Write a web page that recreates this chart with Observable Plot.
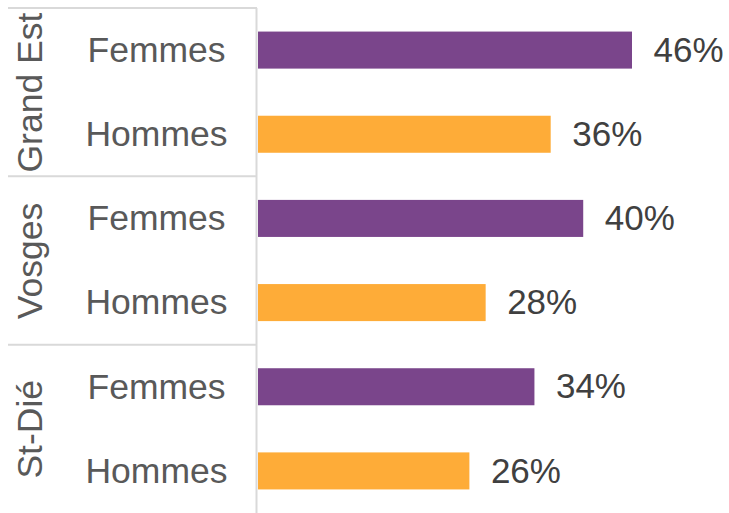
<!DOCTYPE html>
<html>
<head>
<meta charset="utf-8">
<script src="https://cdn.jsdelivr.net/npm/d3@7"></script>
<script src="https://cdn.jsdelivr.net/npm/@observablehq/plot@0.6"></script>
<style>
  html, body { margin: 0; padding: 0; background: #fff; }
  #chart svg { display: block; }
</style>
</head>
<body>
<div id="chart"></div>
<script>
// Data
const regions = ["Grand Est", "Grand Est", "Vosges", "Vosges", "St-Dié", "St-Dié"];
const sexes = ["Femmes", "Hommes", "Femmes", "Hommes", "Femmes", "Hommes"];
const values = [46, 36, 40, 28, 34, 26];
const sexDomain = ["Femmes", "Hommes"];
const sexColors = ["#7a458b", "#feac38"];
const groupNames = ["Grand Est", "Vosges", "St-Dié"];

const rows = values.map((v, i) => ({
  key: regions[i] + "|" + sexes[i],
  region: regions[i],
  sex: sexes[i],
  value: v
}));
const keys = rows.map(d => d.key);
const groups = groupNames.map(g => ({ name: g, first: rows.find(r => r.region === g).key }));

const font = "'Liberation Sans', Arial, Helvetica, sans-serif";
const padInner = 0.56, padOuter = 0.28;

const chart = Plot.plot({
  width: 729,
  height: 513,
  marginLeft: 258,
  marginRight: 97,
  marginTop: 8,
  marginBottom: 0,
  style: { fontFamily: font, background: "#fff" },
  x: { domain: [0, 46], axis: null },
  y: { domain: keys, axis: null, paddingInner: padInner, paddingOuter: padOuter, round: false },
  color: { domain: sexDomain, range: sexColors },
  marks: [
    Plot.ruleX([0], { stroke: "#d9d9d9", strokeWidth: 2, dx: -2 }),
    Plot.barX(rows, { x: "value", y: "key", fill: "sex" }),
    Plot.text(rows, {
      x: "value", y: "key", text: d => d.value + "%",
      textAnchor: "start", dx: 21, fontSize: 35, fill: "#404040"
    }),
    Plot.text(rows, {
      y: "key", text: "sex", frameAnchor: "left", textAnchor: "middle",
      dx: -102, fontSize: 35.5, fill: "#595959"
    }),
    Plot.text(groups, {
      y: "first", text: "name", frameAnchor: "left", textAnchor: "middle",
      rotate: -90, dx: -228, dy: 42, fontSize: 35.5, fill: "#595959"
    })
  ]
});

// Group separator lines in the left margin, positioned from the y scale
const ys = chart.scale("y");
const step = ys.step;
const svg = d3.select(chart.tagName === "svg" ? chart : chart.querySelector("svg"));
const lineG = svg.insert("g", ":first-child");
groups.forEach(g => {
  const yy = ys.apply(g.first) - padOuter * step;
  lineG.append("line")
    .attr("x1", 8).attr("x2", 257)
    .attr("y1", yy).attr("y2", yy)
    .attr("stroke", "#d9d9d9").attr("stroke-width", 2);
});

document.getElementById("chart").appendChild(chart);
</script>
</body>
</html>
